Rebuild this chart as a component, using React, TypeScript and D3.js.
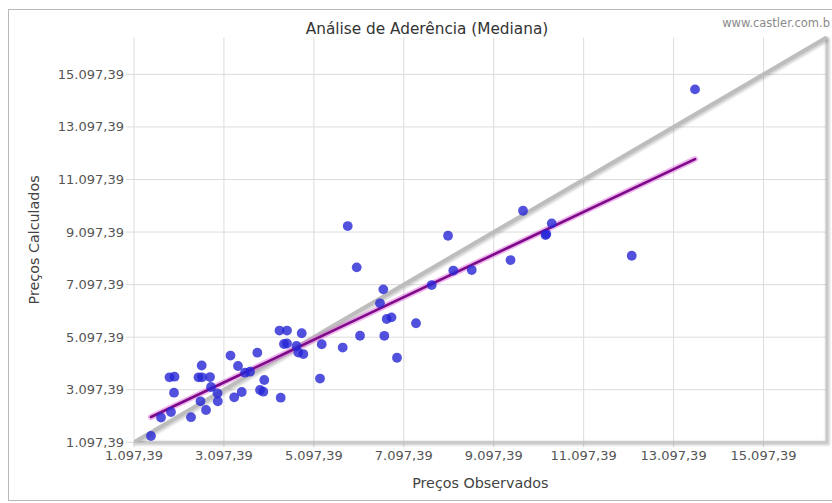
import React from "react";
import * as d3 from "d3";

const xTicks = [1097.39, 3097.39, 5097.39, 7097.39, 9097.39, 11097.39, 13097.39, 15097.39];
const yTicks = [1097.39, 3097.39, 5097.39, 7097.39, 9097.39, 11097.39, 13097.39, 15097.39];
const axisMin = 1097.39;
const axisMax = 16500;

const observed = [
  1475, 1698, 1920, 1987, 1887, 1998, 2365, 2699, 2576, 2961,
  2954, 2810, 2532, 2610, 2788, 2603, 3243, 3410, 3566, 3677,
  3840, 3995, 3900, 3973, 3493, 3326, 4360, 4333, 4500, 4827,
  4433, 4500, 4711, 4751, 4863, 5272, 5234, 5739, 6124, 6568,
  6664, 6717, 6824, 7369, 6946, 5850, 6050, 6642, 7718, 8199,
  8608, 8081, 9471, 9749, 10387, 10267, 10249, 12166, 13574,
];
const calculated = [
  1337, 2041, 2250, 2984, 3570, 3593, 2052, 2326, 2657, 2657,
  2961, 3201, 3570, 3570, 3581, 4019, 4399, 4000, 3745, 3783,
  4506, 3467, 3087, 3022, 3011, 2809, 2794, 5350, 5350, 5247,
  4837, 4856, 4761, 4513, 4456, 4829, 3524, 4703, 5152, 6385,
  5149, 5788, 5852, 5628, 4315, 9325, 7754, 6917, 7081, 7633,
  7652, 8956, 8032, 9908, 9428, 9021, 8983, 8196, 14525,
];
const trendObserved = [1475, 13574];
const trendCalculated = [2060, 11875];
const identityLine = [axisMin, axisMax];

const title = "Análise de Aderência (Mediana)";
const xTitle = "Preços Observados";
const yTitle = "Preços Calculados";
const credit = "www.castler.com.b";

const ptBR = d3.formatLocale({ decimal: ",", thousands: ".", grouping: [3], currency: ["R$", ""] });
const fmt = ptBR.format(",.2f");

export default function App() {
  const W = 832;
  const H = 503;
  const left = 134;
  const right = 826.6;
  const top = 37.5;
  const bottom = 442.3;

  const x = d3.scaleLinear().domain([axisMin, axisMax]).range([left, right]);
  const y = d3.scaleLinear().domain([axisMin, axisMax]).range([bottom, top]);

  const line = d3
    .line<[number, number]>()
    .x((d) => x(d[0]))
    .y((d) => y(d[1]));

  const idPts: [number, number][] = identityLine.map((v) => [v, v]);
  const trendPts: [number, number][] = trendObserved.map((v, i) => [v, trendCalculated[i]]);

  const labelFont = "'DejaVu Sans', Verdana, sans-serif";
  const titleFont = "'DejaVu Sans', Tahoma, sans-serif";

  return (
    <svg
      width={W}
      height={H}
      style={{ position: "absolute", left: 0, top: 0, background: "#fff" }}
    >
      <defs>
        <filter id="blur1" x="-5%" y="-5%" width="110%" height="110%">
          <feGaussianBlur stdDeviation="1.2" />
        </filter>
        <clipPath id="plotClip">
          <rect x={left} y={top - 6} width={right - left + 6} height={bottom - top + 6} />
        </clipPath>
      </defs>

      {/* outer chart border */}
      <rect x={8.5} y={9.5} width={W + 20} height={H - 12} fill="#fff" stroke="#b8b8b8" strokeWidth={1} />

      {/* grid */}
      <g>
        {xTicks.map((t) => (
          <line key={"gx" + t} x1={x(t)} x2={x(t)} y1={top} y2={bottom + 5} stroke="#dcdcdc" strokeWidth={1} />
        ))}
        {yTicks.map((t) => (
          <line key={"gy" + t} x1={left - 8} x2={right} y1={y(t)} y2={y(t)} stroke="#dcdcdc" strokeWidth={1} />
        ))}
      </g>

      {/* plot border shadow (right + bottom) */}
      <path
        d={`M${right + 1},${top} L${right + 1},${bottom + 1} L${left},${bottom + 1}`}
        fill="none"
        stroke="rgba(0,0,0,0.2)"
        strokeWidth={4}
        filter="url(#blur1)"
      />
      <path
        d={`M${right},${top} L${right},${bottom} L${left},${bottom}`}
        fill="none"
        stroke="#c8c8c8"
        strokeWidth={2}
      />

      {/* tick labels */}
      <g fontFamily={labelFont} fontSize={13} fill="#555">
        {yTicks.map((t) => (
          <text key={"ly" + t} x={124} y={y(t)} dy="0.35em" textAnchor="end">
            {fmt(t)}
          </text>
        ))}
        {xTicks.map((t) => (
          <text key={"lx" + t} x={x(t)} y={459.5} textAnchor="middle">
            {fmt(t)}
          </text>
        ))}
      </g>

      <g clipPath="url(#plotClip)">
        {/* identity line */}
        <path d={line(idPts) || ""} fill="none" stroke="rgba(0,0,0,0.18)" strokeWidth={5} transform="translate(1,1.5)" filter="url(#blur1)" />
        <path d={line(idPts) || ""} fill="none" stroke="#bdbdbd" strokeWidth={4} />

        {/* trend line */}
        <path d={line(trendPts) || ""} fill="none" stroke="rgba(220,90,220,0.45)" strokeWidth={6} strokeLinecap="round" />
        <path d={line(trendPts) || ""} fill="none" stroke="#7d0a87" strokeWidth={2.6} strokeLinecap="round" />

        {/* points */}
        {observed.map((v, i) => (
          <circle key={"p" + i} cx={x(v)} cy={y(calculated[i])} r={4.9} fill="rgba(38,38,214,0.8)" />
        ))}
      </g>

      {/* titles */}
      <text x={427} y={34} textAnchor="middle" fontFamily={titleFont} fontSize={15.3} fill="#333">
        {title}
      </text>
      <text x={830} y={27} textAnchor="end" fontFamily={titleFont} fontSize={11.5} fill="#8a8a8a">
        {credit}
      </text>
      <text x={(left + right) / 2} y={488} textAnchor="middle" fontFamily={titleFont} fontSize={14.3} fill="#444">
        {xTitle}
      </text>
      <text
        transform={`translate(39,${(top + bottom) / 2}) rotate(-90)`}
        textAnchor="middle"
        fontFamily={titleFont}
        fontSize={14.3}
        fill="#444"
      >
        {yTitle}
      </text>
    </svg>
  );
}
